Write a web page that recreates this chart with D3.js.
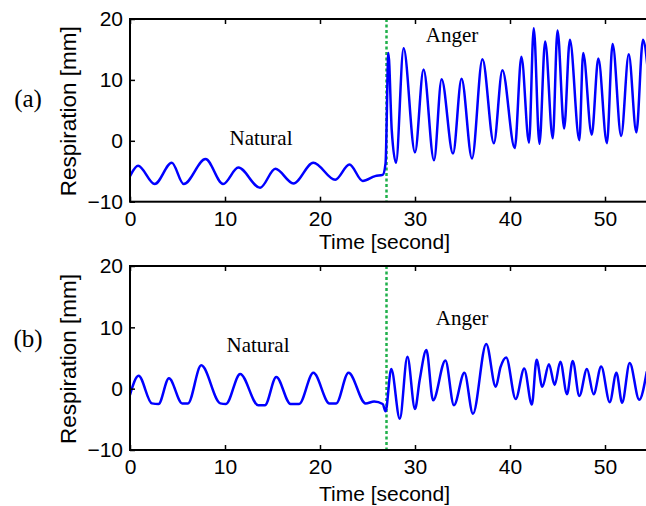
<!DOCTYPE html>
<html>
<head>
<meta charset="utf-8">
<script src="https://cdn.jsdelivr.net/npm/d3@7"></script>
<style>
  body { margin: 0; background: #fff; }
  svg { display: block; }
</style>
</head>
<body>
<div id="chart"></div>
<script>
// panel (a) respiration readings
const timeA = [0, 0.85, 2.6, 4.4, 5.65, 7.95, 9.8, 11.4, 13.7, 15.3, 17.2, 19.3, 21.6, 23.1, 24.5, 25.8, 26.6, 26.9,
  27.2, 27.55, 28.0, 28.8, 30.0, 30.9, 32.0, 32.8, 34.0, 34.9, 36.0, 37.1, 38.3, 39.2, 40.5, 41.2, 42.0, 42.5,
  43.1, 43.7, 44.5, 45.0, 45.7, 46.3, 47.3, 47.7, 48.6, 49.3, 50.2, 50.8, 51.7, 52.5, 53.3, 54.0, 54.6];
const respA = [-5.8, -4.1, -7.1, -3.6, -7.1, -3.0, -7.1, -4.4, -7.7, -4.6, -7.0, -3.6, -6.4, -3.9, -6.6, -5.8, -5.6, -3.7,
  14.4, 1.8, -3.6, 15.2, -1.9, 11.7, -3.2, 10.1, -2.1, 10.2, -2.9, 13.4, -0.4, 11.6, -1.2, 13.8, -0.3, 18.5,
  -0.5, 16.3, 0.4, 18.1, 2.0, 16.6, 0.1, 14.4, 1.0, 13.5, -0.4, 15.9, 0.8, 14.2, 1.4, 16.6, 10];

// panel (b) respiration readings
const timeB = [0, 0.9, 2.3, 3.0, 4.1, 5.5, 6.1, 7.5, 9.5, 10.1, 11.6, 13.5, 14.2, 15.4, 16.9, 17.8, 19.3, 21.0, 21.7,
  23.0, 24.8, 25.7, 26.6, 26.9,
  27.5, 28.4, 29.2, 30.0, 30.5, 31.2, 31.9, 33.2, 34.1, 35.2, 36.1, 37.5, 38.5, 39.0, 39.6, 40.6, 41.5, 42.3,
  42.8, 43.4, 44.1, 44.7, 45.3, 46.0, 46.6, 47.3, 48.1, 48.8, 49.6, 50.5, 51.2, 51.8, 52.6, 53.6, 54.4];
const respB = [-1.0, 2.1, -2.4, -2.5, 1.7, -2.4, -2.4, 3.8, -2.4, -2.5, 2.4, -2.7, -2.7, 1.9, -2.5, -2.5, 2.6, -2.4, -2.4,
  2.6, -2.4, -2.1, -2.5, -3.7,
  3.2, -4.9, 5.2, -3.3, 1.5, 6.3, -1.9, 4.6, -2.7, 2.6, -4.1, 7.3, 0.3, 3.5, 5.1, -1.7, 3.3, -2.6,
  4.7, 0.3, 4.0, 0.6, 4.4, -0.9, 4.5, -1.2, 3.2, -0.9, 3.6, -2.2, 2.6, -2.3, 4.2, -1.8, 2.8];

const xTicks = [0, 10, 20, 30, 40, 50];
const yTicks = [-10, 0, 10, 20];
const onsetTime = 27;

const width = 646;
const height = 506;
const sans = "'Liberation Sans', Arial, sans-serif";
const serif = "'Liberation Serif', 'Times New Roman', serif";

const svg = d3.select("#chart")
  .append("svg")
  .attr("width", width)
  .attr("height", height);

svg.append("rect").attr("width", width).attr("height", height).attr("fill", "#fff");

const panels = [
  {
    id: "a", top: 19, bottom: 201.7, times: timeA, values: respA, tag: "(a)", tagY: 107,
    natural: [261, 145], anger: [452, 42], xlabelY: 249
  },
  {
    id: "b", top: 266, bottom: 450, times: timeB, values: respB, tag: "(b)", tagY: 347,
    natural: [258, 351.5], anger: [462, 325], xlabelY: 501
  }
];

const x = d3.scaleLinear().domain([0, 55]).range([130, 652.5]);

panels.forEach((p) => {
  const y = d3.scaleLinear().domain([-10, 20]).range([p.bottom, p.top]);
  const g = svg.append("g");

  g.append("clipPath")
    .attr("id", "clip-" + p.id)
    .append("rect")
    .attr("x", x(0))
    .attr("y", p.top)
    .attr("width", x(55) - x(0))
    .attr("height", p.bottom - p.top);

  // onset marker
  g.append("line")
    .attr("x1", x(onsetTime))
    .attr("x2", x(onsetTime))
    .attr("y1", p.top)
    .attr("y2", p.bottom)
    .attr("stroke", "#1fb04a")
    .attr("stroke-width", 2.5)
    .attr("stroke-dasharray", "3,2.5");

  const pts = p.times.map((t, i) => [t, p.values[i]]);
  const line = d3.line()
    .x((d) => x(d[0]))
    .y((d) => y(d[1]))
    .curve(d3.curveMonotoneX);

  g.append("path")
    .datum(pts)
    .attr("clip-path", "url(#clip-" + p.id + ")")
    .attr("d", line)
    .attr("fill", "none")
    .attr("stroke", "#0000ff")
    .attr("stroke-width", 2.5)
    .attr("stroke-linejoin", "round");

  // axes, ticks pointing inward
  const bottomAxis = g.append("g")
    .attr("transform", `translate(0,${p.bottom})`)
    .call(d3.axisBottom(x).tickValues(xTicks).tickSize(-5).tickPadding(9.5));
  const leftAxis = g.append("g")
    .attr("transform", `translate(${x(0)},0)`)
    .call(d3.axisLeft(y).tickValues(yTicks).tickSize(-5).tickPadding(7));
  const topAxis = g.append("g")
    .attr("transform", `translate(0,${p.top})`)
    .call(d3.axisTop(x).tickValues(xTicks).tickSize(-5).tickFormat(""));

  [bottomAxis, leftAxis, topAxis].forEach((a) => {
    a.select(".domain").remove();
    a.selectAll(".tick line").attr("stroke", "#000").attr("stroke-width", 1.5);
    a.selectAll(".tick text")
      .attr("fill", "#000")
      .style("font-family", sans)
      .style("font-size", "21px");
  });

  g.append("rect")
    .attr("x", x(0))
    .attr("y", p.top)
    .attr("width", x(55) - x(0) + 10)
    .attr("height", p.bottom - p.top)
    .attr("fill", "none")
    .attr("stroke", "#000")
    .attr("stroke-width", 2);

  g.append("text")
    .attr("x", 384.5)
    .attr("y", p.xlabelY)
    .attr("text-anchor", "middle")
    .style("font-family", sans)
    .style("font-size", "21px")
    .text("Time [second]");

  const midY = (p.top + p.bottom) / 2 + 1;
  g.append("text")
    .attr("transform", `translate(76,${midY}) rotate(-90)`)
    .attr("text-anchor", "middle")
    .style("font-family", sans)
    .style("font-size", "22.5px")
    .text("Respiration [mm]");

  g.append("text")
    .attr("x", 28)
    .attr("y", p.tagY)
    .attr("text-anchor", "middle")
    .style("font-family", serif)
    .style("font-size", "25px")
    .text(p.tag);

  g.append("text")
    .attr("x", p.natural[0])
    .attr("y", p.natural[1])
    .attr("text-anchor", "middle")
    .style("font-family", serif)
    .style("font-size", "21px")
    .text("Natural");

  g.append("text")
    .attr("x", p.anger[0])
    .attr("y", p.anger[1])
    .attr("text-anchor", "middle")
    .style("font-family", serif)
    .style("font-size", "21px")
    .text("Anger");
});
</script>
</body>
</html>
